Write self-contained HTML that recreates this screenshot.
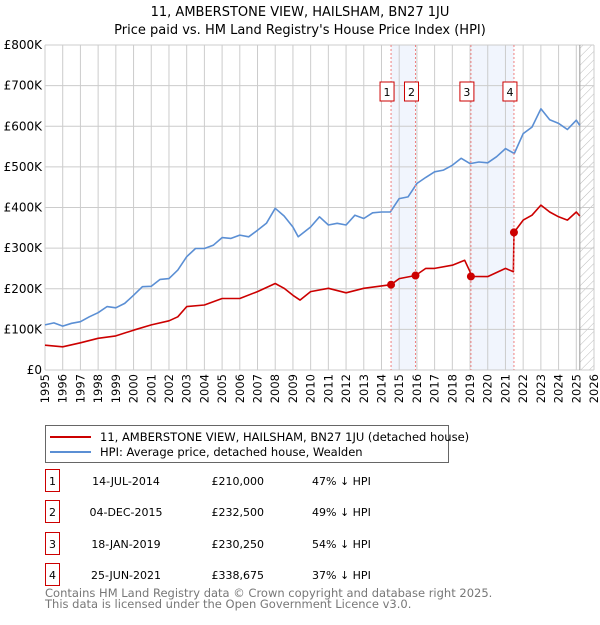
<!DOCTYPE html>
<html><head><meta charset="utf-8"><style>
body{margin:0;background:#fff;font-family:"Liberation Sans","DejaVu Sans",sans-serif}
svg text{font-family:"DejaVu Sans","Liberation Sans",sans-serif}
</style></head><body>
<svg width="600" height="620" viewBox="0 0 600 620" xmlns="http://www.w3.org/2000/svg">
<g id="root"></g>
</svg>
<script>
const hpiYears=[1995,1995.5,1996,1996.5,1997,1997.5,1998,1998.5,1999,1999.5,2000,2000.5,2001,2001.5,2002,2002.5,2003,2003.5,2004,2004.5,2005,2005.5,2006,2006.5,2007,2007.5,2008,2008.5,2009,2009.3,2010,2010.5,2011,2011.5,2012,2012.5,2013,2013.5,2014,2014.5,2015,2015.5,2016,2016.5,2017,2017.5,2018,2018.5,2019,2019.5,2020,2020.5,2021,2021.5,2022,2022.5,2023,2023.5,2024,2024.5,2025,2025.2];
const hpiValues=[111,116,108,115,119,131,141,156,153,164,184,205,206,223,225,246,279,299,299,307,326,324,332,328,344,361,398,379,352,328,352,377,357,361,357,381,373,387,389,389,422,426,459,474,488,492,504,521,508,512,510,525,545,533,582,598,643,616,607,592,615,602];
const ppYears=[1995,1996,1997,1998,1999,2000,2001,2002,2002.5,2003,2004,2005,2006,2007,2008,2008.5,2009,2009.4,2010,2011,2012,2013,2014,2014.54,2015,2015.92,2016.5,2017,2018,2018.7,2019.0,2019.05,2020,2021,2021.45,2021.48,2022,2022.5,2023,2023.5,2024,2024.5,2025,2025.2];
const ppValues=[61,57,67,78,84,98,111,121,131,156,160,176,176,193,213,201,184,172,193,201,190,201,207,210,225,232.5,250,250,258,270,242,230.25,230,250,242,338.675,369,381,406,389,377,369,389,379];
const saleYears=[2014.54,2015.92,2019.05,2021.48];
const saleValues=[210,232.5,230.25,338.675];
const saleLabels=["1","2","3","4"];
const yTicks=[0,100,200,300,400,500,600,700,800];
const yTickLabels=["£0","£100K","£200K","£300K","£400K","£500K","£600K","£700K","£800K"];
const xTicks=[1995,1996,1997,1998,1999,2000,2001,2002,2003,2004,2005,2006,2007,2008,2009,2010,2011,2012,2013,2014,2015,2016,2017,2018,2019,2020,2021,2022,2023,2024,2025,2026];

const NS="http://www.w3.org/2000/svg";
const L=45,R=594,T=45,B=370;
const xs=y=>L+(y-1995)/31*(R-L);
const ys=v=>B-v/800*(B-T);
const root=document.getElementById('root');
function mk(tag,at,parent){const e=document.createElementNS(NS,tag);for(const k in at)e.setAttribute(k,at[k]);(parent||root).appendChild(e);return e;}

let t=mk('text',{x:300,y:16,'text-anchor':'middle','font-size':13,fill:'#000'});t.textContent="11, AMBERSTONE VIEW, HAILSHAM, BN27 1JU";


t=mk('text',{x:300,y:34,'text-anchor':'middle','font-size':13,fill:'#000'});t.textContent="Price paid vs. HM Land Registry's House Price Index (HPI)";



for(let i=0;i<saleYears.length;i+=2){
 const r=mk('rect',{x:xs(saleYears[i]),y:T,width:xs(saleYears[i+1])-xs(saleYears[i]),height:B-T,fill:'#eef3fc',opacity:0.8});
 
 
}
const defs=mk('defs',{});
const pat=mk('pattern',{id:'h',width:6,height:6,patternUnits:'userSpaceOnUse',patternTransform:'rotate(45)'},defs);
mk('line',{x1:0,y1:0,x2:0,y2:6,stroke:'#bbb','stroke-width':1},pat);
let hr=mk('rect',{x:xs(2025.2),y:T,width:R-xs(2025.2),height:B-T,fill:'url(#h)'});



yTicks.forEach((v,i)=>{
 const g=mk('line',{x1:L,x2:R,y1:ys(v),y2:ys(v),stroke:'#ccc','stroke-width':1});
 
 
 const tx=mk('text',{x:L-3,y:ys(v)+4,'text-anchor':'end','font-size':12,fill:'#000'});tx.textContent=yTickLabels[i];
 
 
});
xTicks.forEach(y=>{
 const g=mk('line',{x1:xs(y),x2:xs(y),y1:T,y2:B,stroke:'#ccc','stroke-width':1});
 
 
 const tx=mk('text',{x:0,y:0,'text-anchor':'end','font-size':11.5,fill:'#000',transform:`translate(${xs(y)+4},374) rotate(-90)`});tx.textContent=y;
 
 
});
let el=mk('line',{x1:xs(2025.2),x2:xs(2025.2),y1:T,y2:B,stroke:'#999','stroke-width':1});



function path(xa,va,color,name){
 const d=xa.map((x,i)=>(i?'L':'M')+xs(x).toFixed(1)+','+ys(va[i]).toFixed(1)).join('');
 const p=mk('path',{d,fill:'none',stroke:color,'stroke-width':1.6,'stroke-linejoin':'round'});
 
 
}
path(hpiYears,hpiValues,'#5b8fd4','hpi-line');
path(ppYears,ppValues,'#cc0000','price-paid-line');

saleYears.forEach((y,i)=>{
 const ln=mk('line',{x1:xs(y),x2:xs(y),y1:T,y2:B,stroke:'#f08080','stroke-width':1,'stroke-dasharray':'2,2'});
 
 
 const c=mk('circle',{cx:xs(y),cy:ys(saleValues[i]),r:4,fill:'#cc0000'});
 
 
 const bx=mk('rect',{x:xs(y)-11,y:82,width:14,height:19,fill:'#fff',stroke:'#cc0000','stroke-width':1});
 
 
 const tx=mk('text',{x:xs(y)-4,y:96,'text-anchor':'middle','font-size':11,fill:'#000'});tx.textContent=saleLabels[i];
 
 
});

const lg=mk('g',{});


mk('rect',{x:45.5,y:425.5,width:403,height:37,fill:'#fff',stroke:'#666'},lg);
mk('line',{x1:50,x2:91,y1:437,y2:437,stroke:'#cc0000','stroke-width':2},lg);
mk('line',{x1:50,x2:91,y1:452,y2:452,stroke:'#5b8fd4','stroke-width':2},lg);
t=mk('text',{x:100,y:441,'font-size':11.5,fill:'#000'},lg);t.textContent="11, AMBERSTONE VIEW, HAILSHAM, BN27 1JU (detached house)";


t=mk('text',{x:100,y:456,'font-size':11.5,fill:'#000'},lg);t.textContent="HPI: Average price, detached house, Wealden";



const dates=["14-JUL-2014","04-DEC-2015","18-JAN-2019","25-JUN-2021"];
const prices=["£210,000","£232,500","£230,250","£338,675"];
const pcts=["47% ↓ HPI","49% ↓ HPI","54% ↓ HPI","37% ↓ HPI"];
const rowsY=[481,512,544,575];
rowsY.forEach((ry,i)=>{
 const g=mk('g',{});
 
 
 mk('rect',{x:45.5,y:ry-11.5,width:14,height:22,fill:'#fff',stroke:'#cc0000'},g);
 let a=mk('text',{x:52.5,y:ry+4,'text-anchor':'middle','font-size':11},g);a.textContent=i+1;
 a=mk('text',{x:126,y:ry+4,'text-anchor':'middle','font-size':11},g);a.textContent=dates[i];
 a=mk('text',{x:264,y:ry+4,'text-anchor':'end','font-size':11},g);a.textContent=prices[i];
 a=mk('text',{x:312,y:ry+4,'font-size':11},g);a.textContent=pcts[i];
});
t=mk('text',{x:45,y:597,'font-size':11.5,fill:'#777'});t.textContent="Contains HM Land Registry data © Crown copyright and database right 2025.";


t=mk('text',{x:45,y:608,'font-size':11.5,fill:'#777'});t.textContent="This data is licensed under the Open Government Licence v3.0.";


</script>
</body></html>
